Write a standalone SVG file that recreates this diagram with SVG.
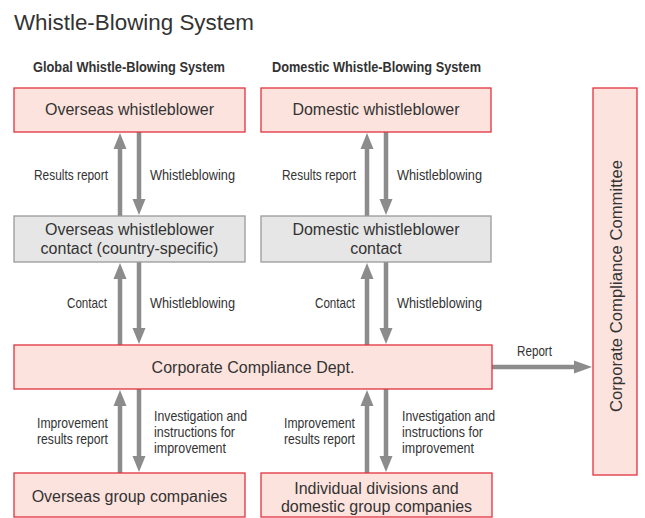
<svg xmlns="http://www.w3.org/2000/svg" width="645" height="518" viewBox="0 0 645 518">
<style>
.red{fill:#fde3de;stroke:#e2323e;stroke-width:1.3}
.gray{fill:#e6e6e6;stroke:#9a9a9a;stroke-width:1.3}
.t{font-family:"Liberation Sans",Arial,sans-serif;font-size:16px;fill:#333;text-anchor:middle}
.lbl{font-family:"Liberation Sans",Arial,sans-serif;font-size:14.5px;fill:#333}
.r{text-anchor:end}
.h{font-family:"Liberation Sans",Arial,sans-serif;font-size:15px;font-weight:bold;fill:#333}
.arr{fill:#8c8c8c}
</style>
<rect width="645" height="518" fill="#fff"/>
<text x="14" y="30" font-family="Liberation Sans, Arial, sans-serif" font-size="22" fill="#333" textLength="240" lengthAdjust="spacingAndGlyphs">Whistle-Blowing System</text>
<text class="h" x="33" y="72" textLength="192" lengthAdjust="spacingAndGlyphs">Global Whistle-Blowing System</text>
<text class="h" x="272" y="72" textLength="209" lengthAdjust="spacingAndGlyphs">Domestic Whistle-Blowing System</text>

<g id="connectors">
<path class="arr" d="M117.75,216 V149 H113.5 L120,133 L126.5,149 H122.25 V216 Z"/>
<path class="arr" d="M136.75,132 V199 H132.5 L139,215 L145.5,199 H141.25 V132 Z"/>
<path class="arr" d="M364.75,216 V149 H360.5 L367,133 L373.5,149 H369.25 V216 Z"/>
<path class="arr" d="M383.75,132 V199 H379.5 L386,215 L392.5,199 H388.25 V132 Z"/>
<path class="arr" d="M117.75,345 V279 H113.5 L120,263 L126.5,279 H122.25 V345 Z"/>
<path class="arr" d="M136.75,262 V328 H132.5 L139,344 L145.5,328 H141.25 V262 Z"/>
<path class="arr" d="M364.75,345 V279 H360.5 L367,263 L373.5,279 H369.25 V345 Z"/>
<path class="arr" d="M383.75,262 V328 H379.5 L386,344 L392.5,328 H388.25 V262 Z"/>
<path class="arr" d="M117.75,473 V406 H113.5 L120,390 L126.5,406 H122.25 V473 Z"/>
<path class="arr" d="M136.75,389 V456 H132.5 L139,472 L145.5,456 H141.25 V389 Z"/>
<path class="arr" d="M364.75,473 V406 H360.5 L367,390 L373.5,406 H369.25 V473 Z"/>
<path class="arr" d="M383.75,389 V456 H379.5 L386,472 L392.5,456 H388.25 V389 Z"/>
<path class="arr" d="M492,364.75 H574 V360.5 L592,367 L574,373.5 V369.25 H492 Z"/>
<text class="lbl r" x="108" y="180" textLength="74" lengthAdjust="spacingAndGlyphs">Results report</text>
<text class="lbl" x="150" y="180" textLength="85" lengthAdjust="spacingAndGlyphs">Whistleblowing</text>
<text class="lbl r" x="356" y="180" textLength="74" lengthAdjust="spacingAndGlyphs">Results report</text>
<text class="lbl" x="397" y="180" textLength="85" lengthAdjust="spacingAndGlyphs">Whistleblowing</text>
<text class="lbl r" x="107" y="308" textLength="40" lengthAdjust="spacingAndGlyphs">Contact</text>
<text class="lbl" x="150" y="308" textLength="85" lengthAdjust="spacingAndGlyphs">Whistleblowing</text>
<text class="lbl r" x="355" y="308" textLength="40" lengthAdjust="spacingAndGlyphs">Contact</text>
<text class="lbl" x="397" y="308" textLength="85" lengthAdjust="spacingAndGlyphs">Whistleblowing</text>
<text class="lbl" x="517" y="356" textLength="35" lengthAdjust="spacingAndGlyphs">Report</text>
<text class="lbl r" x="108" y="428" textLength="71" lengthAdjust="spacingAndGlyphs">Improvement</text>
<text class="lbl r" x="108" y="444" textLength="71" lengthAdjust="spacingAndGlyphs">results report</text>
<text class="lbl" x="154" y="421" textLength="93" lengthAdjust="spacingAndGlyphs">Investigation and</text>
<text class="lbl" x="154" y="437" textLength="81" lengthAdjust="spacingAndGlyphs">instructions for</text>
<text class="lbl" x="154" y="453" textLength="72" lengthAdjust="spacingAndGlyphs">improvement</text>
<text class="lbl r" x="355" y="428" textLength="71" lengthAdjust="spacingAndGlyphs">Improvement</text>
<text class="lbl r" x="355" y="444" textLength="71" lengthAdjust="spacingAndGlyphs">results report</text>
<text class="lbl" x="402" y="421" textLength="93" lengthAdjust="spacingAndGlyphs">Investigation and</text>
<text class="lbl" x="402" y="437" textLength="81" lengthAdjust="spacingAndGlyphs">instructions for</text>
<text class="lbl" x="402" y="453" textLength="72" lengthAdjust="spacingAndGlyphs">improvement</text>
</g>

<g id="overseas-whistleblower">
<rect class="red" x="14" y="88" width="231" height="44"/>
<text class="t" x="129.5" y="115">Overseas whistleblower</text>
</g>
<g id="domestic-whistleblower">
<rect class="red" x="261" y="88" width="230" height="44"/>
<text class="t" x="376" y="115">Domestic whistleblower</text>
</g>
<g id="overseas-contact">
<rect class="gray" x="14" y="216" width="231" height="46"/>
<text class="t" x="129.5" y="235">Overseas whistleblower</text>
<text class="t" x="129.5" y="254">contact (country-specific)</text>
</g>
<g id="domestic-contact">
<rect class="gray" x="261" y="216" width="230" height="46"/>
<text class="t" x="376" y="235">Domestic whistleblower</text>
<text class="t" x="376" y="254">contact</text>
</g>
<g id="compliance-dept">
<rect class="red" x="14" y="345" width="478" height="44"/>
<text class="t" x="253" y="373">Corporate Compliance Dept.</text>
</g>
<g id="compliance-committee">
<rect class="red" x="593" y="88" width="44" height="387"/>
<text class="t" transform="translate(622,286) rotate(-90)" x="0" y="0" textLength="252" lengthAdjust="spacingAndGlyphs">Corporate Compliance Committee</text>
</g>
<g id="overseas-group">
<rect class="red" x="14" y="473" width="231" height="44"/>
<text class="t" x="129.5" y="502">Overseas group companies</text>
</g>
<g id="domestic-group">
<rect class="red" x="261" y="473" width="231" height="44"/>
<text class="t" x="376.5" y="494">Individual divisions and</text>
<text class="t" x="376.5" y="512">domestic group companies</text>
</g>
</svg>
